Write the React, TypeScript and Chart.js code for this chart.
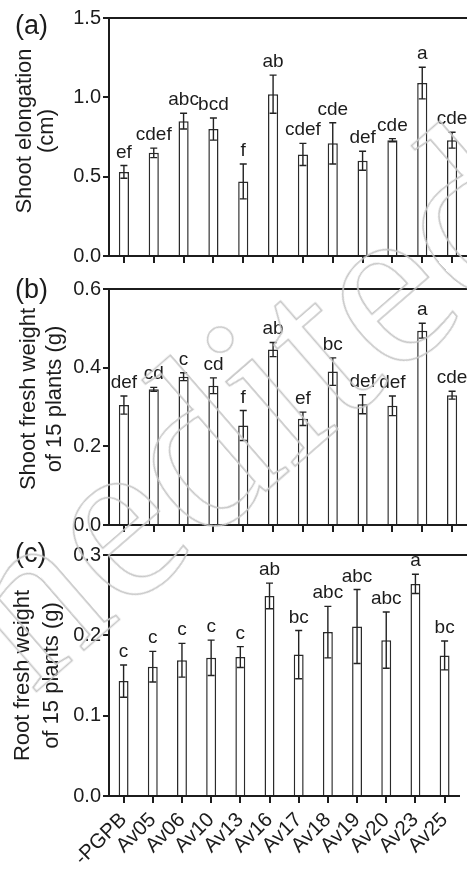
import React, { useEffect, useRef } from 'react';
import { Chart, registerables } from 'chart.js';

Chart.register(...registerables);

const FONT = '"Liberation Sans", Arial, Helvetica, sans-serif';
const INK = '#1c1c1c';

// ---------- data ----------
const categories = ['-PGPB', 'Av05', 'Av06', 'Av10', 'Av13', 'Av16', 'Av17', 'Av18', 'Av19', 'Av20', 'Av23', 'Av25'];

const shootElongation = [0.53, 0.65, 0.85, 0.80, 0.47, 1.02, 0.64, 0.71, 0.60, 0.73, 1.09, 0.73];
const shootElongationErr = [0.04, 0.03, 0.05, 0.07, 0.11, 0.12, 0.07, 0.13, 0.06, 0.01, 0.10, 0.05];
const shootElongationLetters = ['ef', 'cdef', 'abc', 'bcd', 'f', 'ab', 'cdef', 'cde', 'def', 'cde', 'a', 'cde'];
const shootElongationTicks = [0, 0.5, 1.0, 1.5];

const shootWeight = [0.305, 0.345, 0.377, 0.354, 0.253, 0.446, 0.270, 0.390, 0.307, 0.303, 0.494, 0.330];
const shootWeightErr = [0.023, 0.005, 0.010, 0.020, 0.038, 0.018, 0.017, 0.035, 0.024, 0.025, 0.019, 0.010];
const shootWeightLetters = ['def', 'cd', 'c', 'cd', 'f', 'ab', 'ef', 'bc', 'def', 'def', 'a', 'cde'];
const shootWeightTicks = [0, 0.2, 0.4, 0.6];

const rootWeight = [0.143, 0.161, 0.169, 0.172, 0.173, 0.249, 0.176, 0.204, 0.211, 0.194, 0.264, 0.175];
const rootWeightErr = [0.020, 0.019, 0.021, 0.022, 0.013, 0.016, 0.030, 0.032, 0.046, 0.035, 0.012, 0.018];
const rootWeightLetters = ['c', 'c', 'c', 'c', 'c', 'ab', 'bc', 'abc', 'abc', 'abc', 'a', 'bc'];
const rootWeightTicks = [0, 0.1, 0.2, 0.3];

type PanelProps = {
  top: number;
  height: number;
  padTop: number;
  xAxisHeight: number;
  showXLabels: boolean;
  values: number[];
  errs: number[];
  letters: string[];
  ticks: number[];
  titleLines: string[];
  titleX: number[];
  titleShift: number;
  label: string;
  labelDy: number;
};

function Panel(p: PanelProps) {
  const ref = useRef<HTMLCanvasElement | null>(null);

  useEffect(() => {
    if (!ref.current) return;
    const yMax = p.ticks[p.ticks.length - 1];

    const annot = {
      id: 'annot',
      afterDatasetsDraw(chart: any) {
        const ctx = chart.ctx as CanvasRenderingContext2D;
        const { left, top, bottom } = chart.chartArea;
        const ys = chart.scales.y;
        const meta = chart.getDatasetMeta(0);
        ctx.save();
        // top frame line
        ctx.strokeStyle = INK;
        ctx.lineWidth = 2;
        ctx.beginPath();
        ctx.moveTo(left - 1, top);
        ctx.lineTo(chart.width, top);
        ctx.stroke();
        // error bars
        ctx.lineWidth = 1.4;
        ctx.strokeStyle = '#222';
        meta.data.forEach((bar: any, i: number) => {
          const x = bar.x;
          const hi = ys.getPixelForValue(p.values[i] + p.errs[i]);
          const lo = ys.getPixelForValue(p.values[i] - p.errs[i]);
          ctx.beginPath();
          ctx.moveTo(x, hi);
          ctx.lineTo(x, lo);
          ctx.moveTo(x - 3.5, hi);
          ctx.lineTo(x + 3.5, hi);
          ctx.moveTo(x - 3.5, lo);
          ctx.lineTo(x + 3.5, lo);
          ctx.stroke();
          // significance letters
          ctx.fillStyle = INK;
          ctx.font = `19px ${FONT}`;
          ctx.textAlign = 'center';
          ctx.textBaseline = 'alphabetic';
          ctx.fillText(p.letters[i], x, hi - 8);
        });
        // y title
        ctx.font = `22px ${FONT}`;
        ctx.textAlign = 'center';
        ctx.textBaseline = 'middle';
        const cy = (top + bottom) / 2 + p.titleShift;
        p.titleLines.forEach((line, i) => {
          ctx.save();
          ctx.translate(p.titleX[i], cy);
          ctx.rotate(-Math.PI / 2);
          ctx.fillText(line, 0, 0);
          ctx.restore();
        });
        // panel label
        ctx.font = `27px ${FONT}`;
        ctx.textAlign = 'left';
        ctx.textBaseline = 'middle';
        ctx.fillText(p.label, 15, top + p.labelDy);
        ctx.restore();
      },
    };

    const chart = new Chart(ref.current, {
      type: 'bar',
      data: {
        labels: categories,
        datasets: [
          {
            data: p.values,
            backgroundColor: '#ffffff',
            borderColor: '#2a2a2a',
            borderWidth: 1.5,
            categoryPercentage: 1,
            barPercentage: 0.34,
          },
        ],
      },
      options: {
        responsive: false,
        animation: false,
        layout: { padding: { top: p.padTop, right: 0, left: 0, bottom: 0 } },
        plugins: { legend: { display: false }, tooltip: { enabled: false } },
        scales: {
          x: {
            offset: true,
            grid: {
              offset: false,
              drawOnChartArea: false,
              drawTicks: true,
              tickLength: 7,
              color: INK,
              lineWidth: 2,
            },
            border: { display: true, color: INK, width: 2 },
            ticks: {
              display: p.showXLabels,
              maxRotation: 45,
              minRotation: 45,
              autoSkip: false,
              padding: 5,
              color: INK,
              font: { size: 20.5, family: FONT },
            },
            afterFit: (s: any) => {
              s.height = p.xAxisHeight;
            },
          },
          y: {
            min: 0,
            max: yMax,
            grid: {
              drawOnChartArea: false,
              drawTicks: true,
              tickLength: 6,
              color: INK,
              lineWidth: 2,
            },
            border: { display: true, color: INK, width: 2 },
            ticks: {
              padding: 2,
              color: INK,
              font: { size: 20, family: FONT },
              callback: (v: any) => Number(v).toFixed(1),
            },
            afterBuildTicks: (s: any) => {
              s.ticks = p.ticks.map((v) => ({ value: v }));
            },
            afterFit: (s: any) => {
              s.width = 109;
            },
          },
        },
      },
      plugins: [annot],
    });
    return () => chart.destroy();
  }, []);

  return (
    <canvas
      ref={ref}
      width={467}
      height={p.height}
      style={{ position: 'absolute', left: 0, top: p.top, width: 467, height: p.height, display: 'block' }}
    />
  );
}

export default function App() {
  return (
    <div
      style={{
        position: 'fixed',
        left: 0,
        top: 0,
        width: 467,
        height: 870,
        overflow: 'hidden',
        background: '#ffffff',
      }}
    >
      <Panel
        top={0}
        height={270}
        padTop={18}
        xAxisHeight={12}
        showXLabels={false}
        values={shootElongation}
        errs={shootElongationErr}
        letters={shootElongationLetters}
        ticks={shootElongationTicks}
        titleLines={['Shoot elongation', '(cm)']}
        titleX={[25, 47]}
        titleShift={-6}
        label="(a)"
        labelDy={9}
      />
      <Panel
        top={275}
        height={264}
        padTop={14}
        xAxisHeight={12}
        showXLabels={false}
        values={shootWeight}
        errs={shootWeightErr}
        letters={shootWeightLetters}
        ticks={shootWeightTicks}
        titleLines={['Shoot fresh weight', 'of 15 plants (g)']}
        titleX={[29, 55]}
        titleShift={-8}
        label="(b)"
        labelDy={2}
      />
      <Panel
        top={540}
        height={330}
        padTop={15}
        xAxisHeight={74}
        showXLabels={true}
        values={rootWeight}
        errs={rootWeightErr}
        letters={rootWeightLetters}
        ticks={rootWeightTicks}
        titleLines={['Root fresh weight', 'of 15 plants (g)']}
        titleX={[23, 52]}
        titleShift={0}
        label="(c)"
        labelDy={0}
      />
      <div
        style={{
          position: 'absolute',
          left: 179,
          top: 461,
          transform: 'translate(-50%, -50%) rotate(-41deg)',
          fontFamily: '"Liberation Serif", "Times New Roman", serif',
          fontSize: 238,
          lineHeight: 1,
          whiteSpace: 'nowrap',
          color: 'transparent',
          WebkitTextStroke: '1.6px #c6c6c6',
          pointerEvents: 'none',
        }}
      >
        Unedited
      </div>
    </div>
  );
}
